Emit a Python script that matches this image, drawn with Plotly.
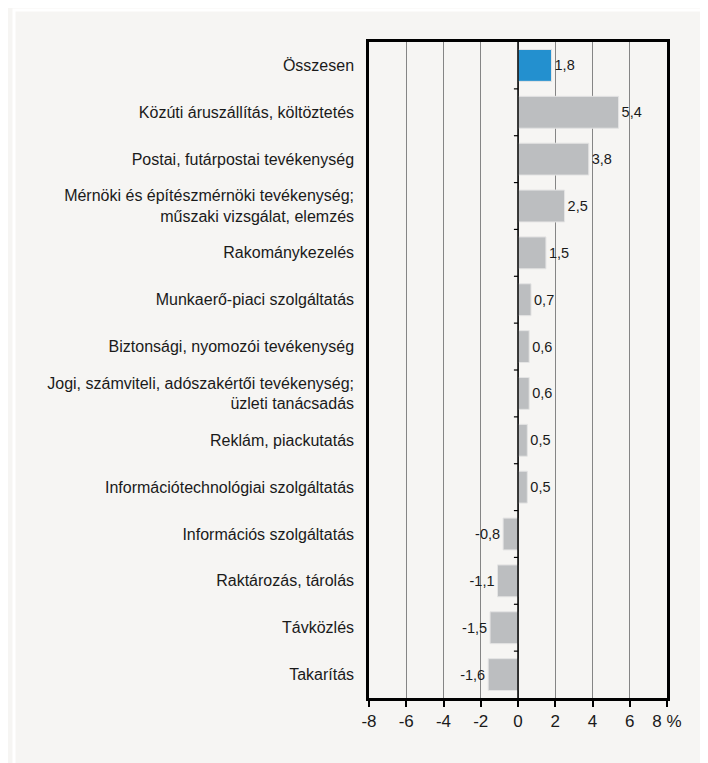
import plotly.graph_objects as go

categories = [
    "Összesen",
    "Közúti áruszállítás, költöztetés",
    "Postai, futárpostai tevékenység",
    "Mérnöki és építészmérnöki tevékenység;<br>műszaki vizsgálat, elemzés",
    "Rakománykezelés",
    "Munkaerő-piaci szolgáltatás",
    "Biztonsági, nyomozói tevékenység",
    "Jogi, számviteli, adószakértői tevékenység;<br>üzleti tanácsadás",
    "Reklám, piackutatás",
    "Információtechnológiai szolgáltatás",
    "Információs szolgáltatás",
    "Raktározás, tárolás",
    "Távközlés",
    "Takarítás",
]
values = [1.8, 5.4, 3.8, 2.5, 1.5, 0.7, 0.6, 0.6, 0.5, 0.5, -0.8, -1.1, -1.5, -1.6]
x_ticks = [-8, -6, -4, -2, 0, 2, 4, 6, 8]
x_ticktext = ["-8", "-6", "-4", "-2", "0", "2", "4", "6", "8 %"]

BG = "#f6f5f3"
GRAY = "#bcbec0"
BLUE = "#2390cf"
FONT = "Liberation Sans Narrow, Arial Narrow, Liberation Sans, sans-serif"

# page has an 8px body margin, so the figure is a bit smaller than the window
W, H = 700, 755
L, R, T, B = 361, 41, 34, 65

colors = [BLUE] + [GRAY] * (len(values) - 1)
labels = [f"{v:.1f}".replace(".", ",") for v in values]

fig = go.Figure()
fig.add_trace(go.Bar(
    y=list(range(len(categories))), x=values, orientation="h",
    marker=dict(color=colors, line=dict(color="#e4e4e4", width=1)),
    width=0.68,
    text=labels, textposition="outside", cliponaxis=False,
    textfont=dict(size=14.5, color="#1a1a1a", family=FONT),
    showlegend=False, hoverinfo="skip",
))

shapes = []
# small ticks on the zero line between categories
for i in range(len(categories) - 1):
    shapes.append(dict(type="line", xref="x", yref="y", x0=-0.22, x1=0,
                       y0=i + 0.5, y1=i + 0.5, line=dict(color="black", width=1.2)))
shapes.append(dict(type="line", xref="x", yref="paper", x0=0, x1=0, y0=0, y1=1,
                   line=dict(color="black", width=1.5), layer="above"))

# white frame around the panel
pw, ph = W - L - R, H - T - B
def px(x):
    return (x - L) / pw
def py(y):
    return 1 - (y - T) / ph
shapes.append(dict(type="rect", xref="paper", yref="paper",
                   x0=px(6), x1=px(697), y0=py(800), y1=py(2),
                   line=dict(color="white", width=3), layer="below"))

fig.update_layout(
    width=W, height=H,
    paper_bgcolor=BG, plot_bgcolor=BG,
    margin=dict(l=L, r=R, t=T, b=B),
    font=dict(family=FONT, color="#1a1a1a", size=15),
    shapes=shapes,
    xaxis=dict(
        range=[-8, 8], tickvals=x_ticks, ticktext=x_ticktext,
        showgrid=True, gridcolor="#858585", gridwidth=1,
        zeroline=False, ticks="outside", ticklen=6, tickwidth=2, tickcolor="black",
        showline=True, linecolor="black", linewidth=2.5, mirror=True,
        tickfont=dict(size=17),
    ),
    yaxis=dict(
        tickvals=list(range(len(categories))), ticktext=categories,
        range=[len(categories) - 0.5, -0.5],
        showgrid=False, zeroline=False, ticks="",
        showline=True, linecolor="black", linewidth=2.5, mirror=True,
        ticklabelstandoff=9, tickfont=dict(size=16),
    ),
)

fig.write_html("out.html")
